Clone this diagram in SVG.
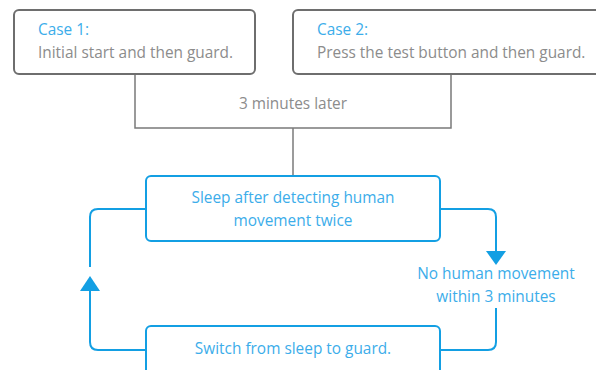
<svg xmlns="http://www.w3.org/2000/svg" width="596" height="370" viewBox="0 0 596 370">
<style>
text{font-family:"Open Sans","Noto Sans","Liberation Sans",sans-serif;font-size:15.4px}
.gbox{fill:#fff;stroke:#6e6e6e;stroke-width:2}
.bbox{fill:#fff;stroke:#139fe3;stroke-width:2}
.gline{fill:none;stroke:#7a7a7a;stroke-width:1.5}
.bline{fill:none;stroke:#139fe3;stroke-width:2}
.arr{fill:#139fe3}
.t-b{fill:#3cadea}
.t-g{fill:#8c8c8c}
.mid{text-anchor:middle}
</style>
<rect width="596" height="370" fill="#fff"/>
<g id="connectors">
<path class="gline" d="M135,74 V128 H451 V74"/>
<path class="gline" d="M293,128 V176"/>
<text class="t-g mid" x="293" y="109">3 minutes later</text>
<path class="bline" d="M440,209 H488 Q496,209 496,217 V252"/>
<polygon class="arr" points="486,251 506,251 496,265"/>
<path class="bline" d="M496,308 V342 Q496,350 488,350 H440"/>
<text class="t-b mid" x="496" y="279">No human movement</text>
<text class="t-b mid" x="496" y="302">within 3 minutes</text>
<path class="bline" d="M146,350 H98 Q90,350 90,342 V290"/>
<polygon class="arr" points="80,291 100,291 90,276"/>
<path class="bline" d="M90,267 V217 Q90,209 98,209 H146"/>
</g>
<g id="case1">
<rect class="gbox" x="14" y="10" width="241" height="64" rx="5"/>
<text class="t-b" x="38" y="35">Case 1:</text>
<text class="t-g" x="38" y="58">Initial start and then guard.</text>
</g>
<g id="case2">
<rect class="gbox" x="293" y="10" width="310" height="64" rx="5"/>
<text class="t-b" x="317" y="35">Case 2:</text>
<text class="t-g" x="317" y="58">Press the test button and then guard.</text>
</g>
<g id="sleep">
<rect class="bbox" x="146" y="176" width="294" height="65" rx="5"/>
<text class="t-b mid" x="293" y="203">Sleep after detecting human</text>
<text class="t-b mid" x="293" y="226">movement twice</text>
</g>
<g id="switch">
<rect class="bbox" x="146" y="326" width="294" height="60" rx="5"/>
<text class="t-b mid" x="293" y="354">Switch from sleep to guard.</text>
</g>
</svg>
